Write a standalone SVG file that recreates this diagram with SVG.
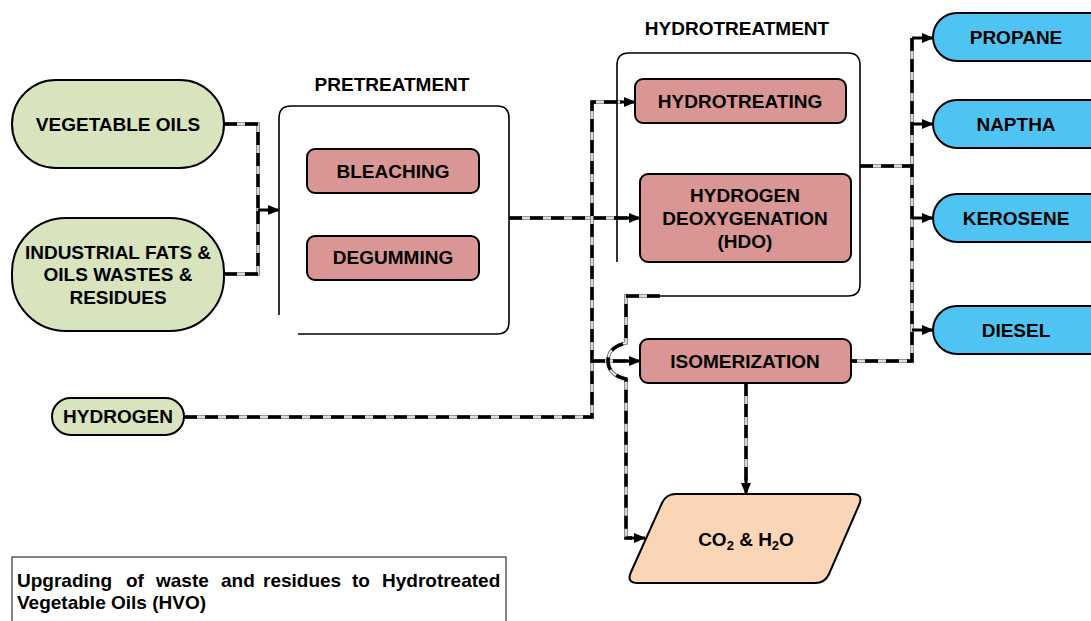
<svg xmlns="http://www.w3.org/2000/svg" width="1091" height="621" viewBox="0 0 1091 621">
<style>
text{font-family:"Liberation Sans",Arial,sans-serif;font-weight:bold;font-size:19px;fill:#000}
.c{text-anchor:middle}
.green{fill:#d7e4bd;stroke:#000;stroke-width:2}
.red{fill:#d99694;stroke:#000;stroke-width:2}
.blue{fill:#4fc4f3;stroke:#000;stroke-width:2}
.peach{fill:#fbd6b6;stroke:#000;stroke-width:2}
.box{fill:none;stroke:#000;stroke-width:1.6}
.b1{fill:none;stroke:#777;stroke-width:3.6}
.b2{fill:none;stroke:#fff;stroke-width:1.4}
.b3{fill:none;stroke:#000;stroke-width:3.4;stroke-dasharray:13 8}
.ar{fill:none;stroke:#000;stroke-width:3;marker-end:url(#ah)}
</style>
<defs>
<marker id="ah" markerWidth="12" markerHeight="10" refX="11" refY="5" orient="auto" markerUnits="userSpaceOnUse">
<path d="M0,0 L12,5 L0,10 Z" fill="#000"/>
</marker>
<path id="p1" d="M224,124 H258 V210"/>
<path id="p2" d="M224,274 H258 V210"/>
<path id="p3" d="M509,218 H628"/>
<path id="p4" d="M184,417 H592 V102 H622"/>
<path id="p5" d="M592,361 H628"/>
<path id="p6" d="M660,296 H626 V343 C612,346 608,354 608,361 C608,368 612,376 626,379 V538 H632"/>
<path id="p7" d="M860,166 H912"/>
<path id="p8" d="M912,38 V361 H851"/>
<path id="p9" d="M746,383 V481"/>
</defs>
<g id="connectors">
<use href="#p1" class="b1"/><use href="#p1" class="b2"/><use href="#p1" class="b3"/>
<use href="#p2" class="b1"/><use href="#p2" class="b2"/><use href="#p2" class="b3"/>
<use href="#p3" class="b1"/><use href="#p3" class="b2"/><use href="#p3" class="b3"/>
<use href="#p4" class="b1"/><use href="#p4" class="b2"/><use href="#p4" class="b3"/>
<use href="#p5" class="b1"/><use href="#p5" class="b2"/><use href="#p5" class="b3"/>
<use href="#p6" class="b1"/><use href="#p6" class="b2"/><use href="#p6" class="b3"/>
<use href="#p7" class="b1"/><use href="#p7" class="b2"/><use href="#p7" class="b3"/>
<use href="#p8" class="b1"/><use href="#p8" class="b2"/><use href="#p8" class="b3"/>
<use href="#p9" class="b1"/><use href="#p9" class="b2"/><use href="#p9" class="b3"/>
<path class="ar" d="M258,210 H279"/>
<path class="ar" d="M626,218 H640"/>
<path class="ar" d="M620,102 H635"/>
<path class="ar" d="M626,361 H640"/>
<path class="ar" d="M630,538 H645"/>
<path class="ar" d="M746,479 V494"/>
<path class="ar" d="M912,38 H933"/>
<path class="ar" d="M912,124 H933"/>
<path class="ar" d="M912,218 H933"/>
<path class="ar" d="M912,330 H933"/>
</g>
<g id="pretreatment">
<path class="box" d="M279,315 V118 Q279,106 291,106 H497 Q509,106 509,118 V322 Q509,334 497,334 H298"/>
<text class="c" x="392" y="91">PRETREATMENT</text>
</g>
<g id="hydrotreatment">
<path class="box" d="M617,262 V65 Q617,53 629,53 H848 Q860,53 860,65 V284 Q860,296 848,296 H652"/>
<text class="c" x="737" y="35">HYDROTREATMENT</text>
</g>
<g id="vegetable-oils">
<rect class="green" x="12" y="80" width="212" height="88" rx="44"/>
<text class="c" x="118" y="131">VEGETABLE OILS</text>
</g>
<g id="industrial">
<rect class="green" x="12" y="218" width="212" height="113" rx="54"/>
<text class="c" x="118" y="259">INDUSTRIAL FATS &amp;</text>
<text class="c" x="118" y="281">OILS WASTES &amp;</text>
<text class="c" x="118" y="304">RESIDUES</text>
</g>
<g id="hydrogen">
<rect class="green" x="52" y="398" width="132" height="37" rx="18.5"/>
<text class="c" x="118" y="423">HYDROGEN</text>
</g>
<g id="bleaching">
<rect class="red" x="307" y="149" width="172" height="44" rx="8"/>
<text class="c" x="393" y="178">BLEACHING</text>
</g>
<g id="degumming">
<rect class="red" x="307" y="236" width="172" height="44" rx="8"/>
<text class="c" x="393" y="264">DEGUMMING</text>
</g>
<g id="hydrotreating">
<rect class="red" x="635" y="79" width="211" height="44" rx="8"/>
<text class="c" x="740" y="108">HYDROTREATING</text>
</g>
<g id="hdo">
<rect class="red" x="640" y="174" width="211" height="88" rx="8"/>
<text class="c" x="745" y="202">HYDROGEN</text>
<text class="c" x="745" y="225">DEOXYGENATION</text>
<text class="c" x="745" y="248">(HDO)</text>
</g>
<g id="isomerization">
<rect class="red" x="640" y="339" width="211" height="44" rx="8"/>
<text class="c" x="745" y="368">ISOMERIZATION</text>
</g>
<g id="co2-h2o">
<path class="peach" d="M676,494 H852 Q864,494 859,505 L829,574 Q825,583 815,583 H638 Q626,583 631,572 L662,503 Q666,494 676,494 Z"/>
<text class="c" x="746" y="546">CO<tspan font-size="13" dy="4">2</tspan><tspan dy="-4"> &amp; H</tspan><tspan font-size="13" dy="4">2</tspan><tspan dy="-4">O</tspan></text>
</g>
<g id="propane">
<rect class="blue" x="933" y="13" width="200" height="48" rx="24"/>
<text class="c" x="1016" y="44">PROPANE</text>
</g>
<g id="naptha">
<rect class="blue" x="933" y="100" width="200" height="48" rx="24"/>
<text class="c" x="1016" y="131">NAPTHA</text>
</g>
<g id="kerosene">
<rect class="blue" x="933" y="194" width="200" height="48" rx="24"/>
<text class="c" x="1016" y="225">KEROSENE</text>
</g>
<g id="diesel">
<rect class="blue" x="933" y="306" width="200" height="48" rx="24"/>
<text class="c" x="1016" y="337">DIESEL</text>
</g>
<g id="legend">
<rect x="12" y="557" width="494" height="80" fill="#fff" stroke="#333" stroke-width="1.2"/>
<text y="587"><tspan x="17">Upgrading</tspan><tspan x="126">of</tspan><tspan x="156">waste</tspan><tspan x="221">and</tspan><tspan x="263">residues</tspan><tspan x="352">to</tspan><tspan x="382">Hydrotreated</tspan></text>
<text x="17" y="609">Vegetable Oils (HVO)</text>
</g>
</svg>
